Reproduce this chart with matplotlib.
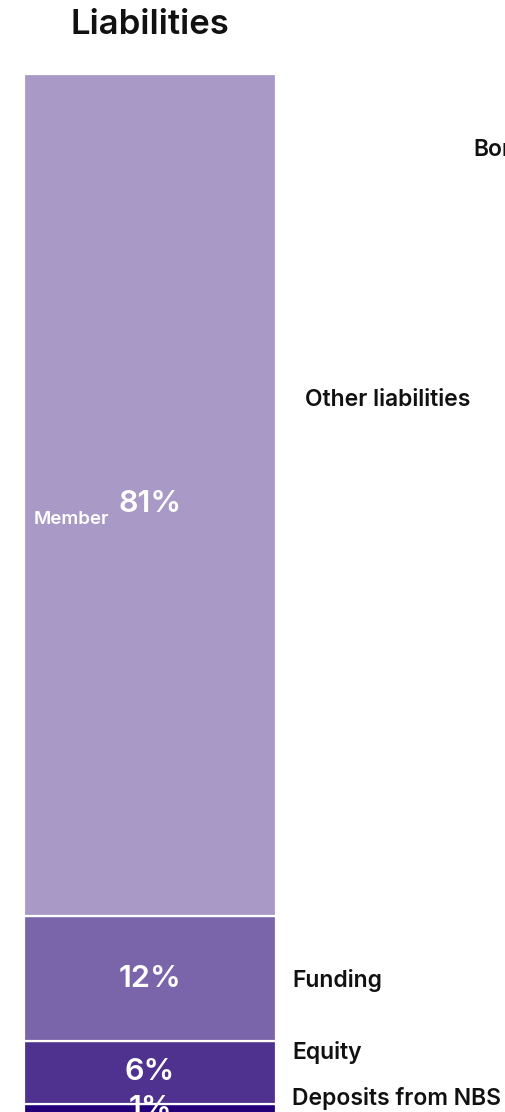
import numpy as np
import matplotlib
matplotlib.use("Agg")
import matplotlib.pyplot as plt

plt.rcParams["font.family"] = ["Inter", "DejaVu Sans"]

# Liability structure, bottom to top of the stack (share of total, %)
categories = ["Deposits from NBS", "Equity", "Funding", "Other liabilities"]
shares = [1, 6, 12, 81]
colors = ["#23007a", "#4f3190", "#7a65ab", "#a899c7"]

W, H = 506, 1112
fig = plt.figure(figsize=(W / 100, H / 100), dpi=100)
fig.patch.set_facecolor("white")

# Axes placed in pixel terms: bar runs from x=24 to x=276, top at y=74
left, right = 24, 276
top, bottom = 74, 1114
ax = fig.add_axes([left / W, 1 - bottom / H, (right - left) / W, (bottom - top) / H])
ax.set_xlim(-0.5, 0.5)
ax.set_ylim(0, 100)
ax.axis("off")

bottoms = np.concatenate([[0], np.cumsum(shares)[:-1]])
ax.bar([0] * len(shares), shares, bottom=bottoms, width=1.0, color=colors,
       edgecolor="white", linewidth=1.6, clip_on=False)

# Percentage labels inside the segments
pct_offsets = {"Other liabilities": -0.8}
for cat, val, b in zip(categories, shares, bottoms):
    yc = b + val / 2 + pct_offsets.get(cat, 0)
    ax.text(0, yc, f"{val}%", ha="center", va="center", color="white",
            fontsize=22, fontweight="semibold", clip_on=False)

# Small caption beside the largest share
fig.text(34 / W, 1 - 520 / H, "Member", ha="left", va="center",
         color="white", fontsize=13.5, fontweight="semibold")

# Category labels to the right of the bar (figure pixel positions)
label_pos = {
    "Other liabilities": (305, 400),
    "Funding": (292, 980),
    "Equity": (292, 1053),
    "Deposits from NBS": (292, 1099),
}
for cat in categories:
    x, y = label_pos[cat]
    fig.text(x / W, 1 - y / H, cat, ha="left", va="center", color="#111111",
             fontsize=16.5, fontweight="semibold")

# Heading of the neighbouring panel, running off the right edge
fig.text(473 / W, 1 - 150 / H, "Bonds", ha="left", va="center",
         color="#111111", fontsize=16.5, fontweight="semibold")

fig.text(150 / W, 1 - 25 / H, "Liabilities", ha="center", va="center",
         color="#111111", fontsize=25, fontweight="semibold")

fig.savefig("out.png", dpi=100, facecolor="white")
